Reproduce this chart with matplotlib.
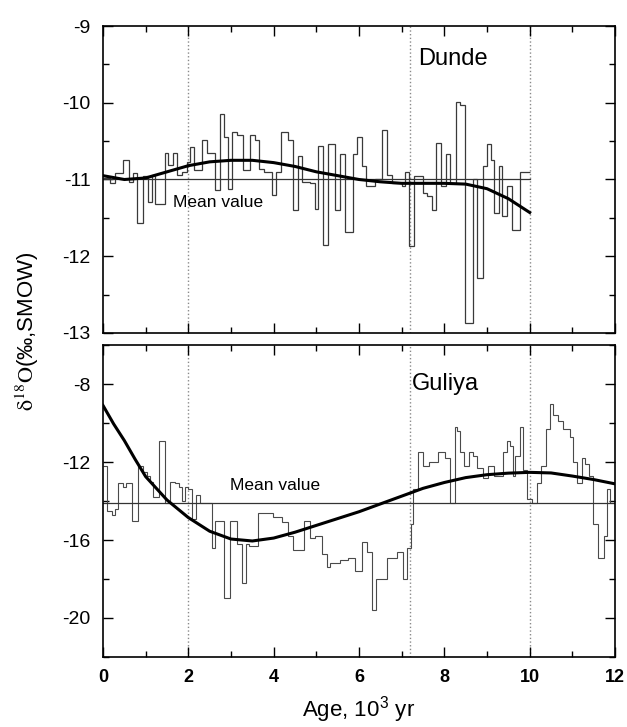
import matplotlib.pyplot as plt
import numpy as np
from matplotlib.ticker import MultipleLocator

plt.rcParams['font.family'] = ['Liberation Sans', 'DejaVu Sans']
plt.rcParams['mathtext.fontset'] = 'stix'
plt.rcParams['axes.unicode_minus'] = False

# Dunde record (step edges in 10^3 yr, d18O values)
dunde_edges = [0.00, 0.16, 0.28, 0.48, 0.62, 0.71, 0.79, 0.93, 1.06, 1.14, 1.22, 1.45, 1.53, 1.63,
               1.73, 1.84, 1.96, 2.04, 2.13, 2.31, 2.43, 2.63, 2.74, 2.84, 2.94, 3.03, 3.13, 3.27,
               3.45, 3.56, 3.66, 3.77, 3.95, 4.05, 4.16, 4.34, 4.46, 4.58, 4.66, 4.85, 4.97, 5.05,
               5.15, 5.28, 5.44, 5.55, 5.67, 5.87, 5.96, 6.06, 6.16, 6.38, 6.55, 6.65, 6.77, 7.00,
               7.08, 7.18, 7.29, 7.51, 7.60, 7.70, 7.80, 7.92, 8.05, 8.13, 8.27, 8.37, 8.48, 8.68,
               8.76, 8.90, 8.99, 9.09, 9.17, 9.27, 9.36, 9.46, 9.58, 9.77, 10.00]
dunde_vals = [-10.98, -11.05, -10.92, -10.75, -11.03, -10.92, -11.57, -10.96, -11.29, -10.94,
              -11.32, -10.66, -10.81, -10.66, -10.94, -10.90, -10.77, -10.57, -10.88, -10.49,
              -10.66, -11.14, -10.14, -10.44, -11.12, -10.38, -10.42, -10.88, -10.42, -10.48,
              -10.86, -10.90, -11.20, -10.90, -10.38, -10.49, -11.40, -10.70, -11.03, -11.05,
              -11.38, -10.56, -11.85, -10.54, -11.40, -10.67, -11.68, -10.67, -10.45, -10.83,
              -11.09, -11.00, -10.36, -10.94, -11.04, -11.09, -10.90, -11.87, -10.96, -11.18,
              -11.22, -11.40, -10.53, -11.09, -10.67, -11.05, -9.99, -10.03, -12.87, -11.00,
              -12.29, -10.83, -10.54, -10.75, -11.44, -10.83, -11.48, -11.09, -11.66, -10.90]
dunde_mean = -11.0
dunde_fit_x = [0, 0.5, 1, 1.5, 2, 2.5, 3, 3.5, 4, 4.5, 5, 5.5, 6, 6.5, 7, 7.5, 8, 8.5, 9, 9.5, 10]
dunde_fit_y = [-10.95, -11.0, -10.98, -10.9, -10.82, -10.77, -10.75, -10.75, -10.78, -10.83, -10.9,
               -10.95, -11.0, -11.03, -11.05, -11.05, -11.05, -11.06, -11.12, -11.25, -11.43]

# Guliya record
guliya_edges = [0.00, 0.10, 0.20, 0.28, 0.36, 0.46, 0.55, 0.67, 0.83, 0.93, 1.02, 1.10, 1.16, 1.32,
                1.45, 1.57, 1.69, 1.77, 1.84, 1.92, 2.00, 2.08, 2.18, 2.27, 2.55, 2.63, 2.84, 2.98,
                3.13, 3.25, 3.35, 3.41, 3.64, 3.99, 4.19, 4.34, 4.46, 4.70, 4.84, 4.97, 5.13, 5.24,
                5.32, 5.55, 5.75, 5.91, 6.06, 6.18, 6.30, 6.40, 6.65, 6.88, 7.02, 7.12, 7.21, 7.26,
                7.39, 7.51, 7.63, 7.86, 8.02, 8.13, 8.25, 8.29, 8.37, 8.46, 8.57, 8.68, 8.76, 8.91,
                9.02, 9.16, 9.27, 9.38, 9.46, 9.54, 9.60, 9.66, 9.77, 9.85, 9.93, 10.05, 10.16, 10.27,
                10.39, 10.48, 10.55, 10.67, 10.79, 10.95, 11.02, 11.10, 11.22, 11.30, 11.38, 11.49,
                11.61, 11.73, 11.81, 11.88, 12.00]
guliya_vals = [-12.2, -14.5, -14.7, -14.4, -13.1, -13.3, -13.1, -15.0, -12.2, -12.5, -12.7, -13.0,
               -13.8, -10.9, -14.1, -13.0, -13.1, -13.3, -14.0, -13.3, -13.4, -14.9, -13.7, -14.1,
               -16.4, -15.0, -19.0, -15.0, -16.2, -18.2, -16.2, -16.3, -14.6, -14.8, -15.1, -15.8,
               -16.5, -15.0, -15.9, -15.8, -16.7, -17.4, -17.2, -17.0, -16.9, -17.6, -16.1, -16.6,
               -19.6, -18.0, -16.9, -16.6, -18.0, -16.4, -15.2, -13.4, -11.5, -12.2, -12.0, -11.5,
               -11.8, -14.1, -10.2, -10.4, -11.5, -12.2, -11.5, -11.7, -12.3, -12.8, -12.2, -12.7,
               -12.7, -11.5, -10.9, -11.2, -12.7, -11.7, -10.2, -12.4, -13.9, -14.1, -13.1, -12.2,
               -10.3, -9.0, -9.6, -9.9, -10.3, -10.7, -12.0, -13.1, -11.8, -12.1, -12.7, -15.2,
               -16.9, -15.8, -13.4, -14.1]
guliya_mean = -14.1
guliya_fit_x = [0, 0.25, 0.5, 0.75, 1, 1.5, 2, 2.5, 3, 3.5, 4, 4.5, 5, 5.5, 6, 6.5, 7, 7.5, 8, 8.5,
                9, 9.5, 10, 10.5, 11, 11.5, 12]
guliya_fit_y = [-9.1, -10.05, -10.9, -11.85, -12.75, -13.95, -14.85, -15.55, -15.95, -16.05, -15.9,
                -15.6, -15.25, -14.9, -14.55, -14.15, -13.75, -13.35, -13.05, -12.8, -12.65, -12.57,
                -12.53, -12.56, -12.72, -12.9, -13.12]

markers_x = [2.0, 7.2, 10.0]

fig = plt.figure(figsize=(6.27, 7.27), dpi=100)
ax1 = fig.add_axes([0.1643, 0.5420, 0.8166, 0.4222])
ax2 = fig.add_axes([0.1643, 0.0963, 0.8166, 0.4291])

for ax in (ax1, ax2):
    ax.set_xlim(0, 12)
    ax.xaxis.set_major_locator(MultipleLocator(2))
    ax.xaxis.set_minor_locator(MultipleLocator(1))
    ax.tick_params(which='both', direction='in', top=True, right=True, width=1.0,
                   labelsize=14, pad=9)
    ax.tick_params(which='major', length=7)
    ax.tick_params(which='minor', length=4)
    for s in ax.spines.values():
        s.set_linewidth(1.2)
    for xv in markers_x:
        ax.axvline(xv, color='#8a8a8a', ls=':', lw=1.0, zorder=1)

# top panel: Dunde
ax1.stairs(dunde_vals, dunde_edges, baseline=None, color='#3a3a3a', lw=0.9, zorder=2)
ax1.plot([0, 10], [dunde_mean, dunde_mean], color='#333333', lw=0.9, zorder=2)
ax1.plot(dunde_fit_x, dunde_fit_y, color='black', lw=2.2, zorder=3)
ax1.set_ylim(-13, -9)
ax1.set_yticks([-13, -12, -11, -10, -9])
ax1.yaxis.set_minor_locator(MultipleLocator(0.5))
ax1.tick_params(labelbottom=False)
ax1.text(7.38, -9.43, 'Dunde', fontsize=17, ha='left', va='center')
ax1.text(1.64, -11.3, 'Mean value', fontsize=12.5, ha='left', va='center')

# bottom panel: Guliya
ax2.stairs(guliya_vals, guliya_edges, baseline=None, color='#4a4a4a', lw=0.8, zorder=2)
ax2.axhline(guliya_mean, color='#333333', lw=0.9, zorder=2)
ax2.plot(guliya_fit_x, guliya_fit_y, color='black', lw=2.2, zorder=3)
ax2.set_ylim(-22, -6)
ax2.set_yticks([-20, -16, -12, -8])
ax2.yaxis.set_minor_locator(MultipleLocator(2))
ax2.set_xticks(np.arange(0, 13, 2), labels=[str(v) for v in range(0, 13, 2)],
               fontweight='bold', fontsize=13)
ax2.text(7.24, -8.0, 'Guliya', fontsize=17, ha='left', va='center')
ax2.text(2.98, -13.2, 'Mean value', fontsize=12.5, ha='left', va='center')
ax2.set_xlabel(r'Age, 10$^\mathregular{3}$ yr', fontsize=16, labelpad=6)

fig.text(0.043, 0.545, r'$\mathrm{\delta}^{18}\mathrm{O}$(‰,SMOW)', rotation=90, fontsize=16,
         ha='center', va='center')

fig.savefig('out.png', dpi=100)
